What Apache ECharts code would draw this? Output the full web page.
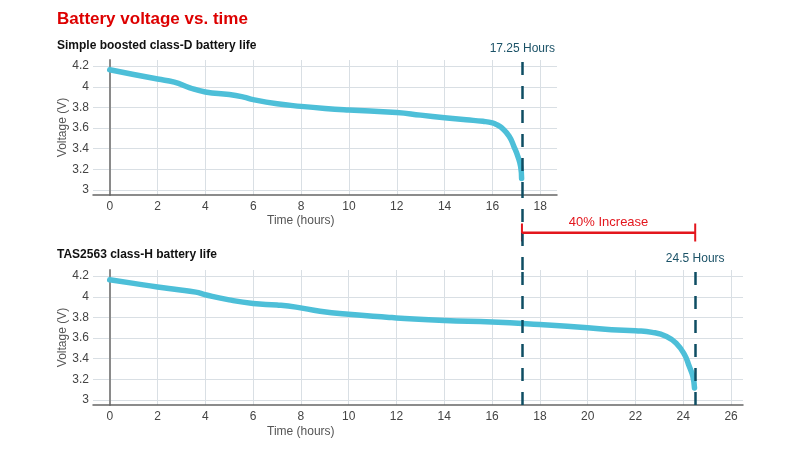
<!DOCTYPE html>
<html><head><meta charset="utf-8">
<script src="https://cdn.jsdelivr.net/npm/echarts@6/dist/echarts.min.js"></script>
<style>html,body{margin:0;padding:0;background:#fff}#c{width:800px;height:450px}</style>
</head><body><div id="c"></div>
<script>
// ---- data ----
const hoursD = [0, 1, 2, 2.7, 3.35, 4, 5, 5.6, 6, 7, 8, 9, 10, 12, 13, 14, 14.9, 15.6, 16, 16.2, 16.4, 16.7, 16.9, 17.07, 17.18, 17.22];
const voltsD = [4.165, 4.12, 4.075, 4.045, 3.99, 3.95, 3.925, 3.90, 3.875, 3.835, 3.81, 3.79, 3.775, 3.75, 3.725, 3.70, 3.68, 3.665, 3.65, 3.63, 3.60, 3.52, 3.42, 3.32, 3.225, 3.11];
const hoursH = [0, 1, 2, 2.8, 3.6, 4, 5, 6, 7, 7.8, 8.8, 10, 11.7, 12, 14, 16, 18, 20, 21, 22, 22.7, 23.3, 23.7, 24.05, 24.25, 24.4, 24.47];
const voltsH = [4.165, 4.13, 4.095, 4.07, 4.045, 4.02, 3.97, 3.935, 3.92, 3.90, 3.86, 3.83, 3.80, 3.795, 3.77, 3.755, 3.73, 3.70, 3.68, 3.67, 3.655, 3.615, 3.55, 3.44, 3.325, 3.23, 3.115];
const endD = 17.25;
const endH = 24.5;
const mainTitle = 'Battery voltage vs. time';
const subTitleD = 'Simple boosted class-D battery life';
const subTitleH = 'TAS2563 class-H battery life';
const xName = 'Time (hours)';
const yName = 'Voltage (V)';
const increaseLabel = '40% Increase';

// ---- styles ----
const FONT = '"Liberation Sans", Arial, Helvetica, sans-serif';
const LINE = '#4dbfd8';
const DASH = '#0e4d63';
const RED = '#e3161d';
const GRIDC = '#d9dfe4';

function xAx(gi, max, split) {
  return {
    type: 'value', gridIndex: gi, min: -0.7, max: max, splitNumber: split,
    axisLine: {show: true, onZero: false, lineStyle: {color: '#666', width: 1.5}},
    axisTick: {show: false},
    axisLabel: {color: '#444', fontSize: 12, fontFamily: FONT, margin: 6, showMinLabel: false, showMaxLabel: false},
    splitLine: {show: true, showMinLine: false, showMaxLine: false, lineStyle: {color: GRIDC, width: 1}}
  };
}
function yAx(gi) {
  return {
    type: 'value', gridIndex: gi, min: 2.95, max: 4.26, splitNumber: 6,
    name: yName, nameLocation: 'middle', nameGap: 24, nameMoveOverlap: false,
    nameTextStyle: {color: '#555', fontSize: 12, fontFamily: FONT},
    axisLine: {show: true, lineStyle: {color: '#8a8a8a', width: 2}},
    axisTick: {show: false},
    axisLabel: {color: '#444', fontSize: 12, fontFamily: FONT, margin: 4, showMinLabel: false, showMaxLabel: false},
    splitLine: {show: true, showMinLine: false, showMaxLine: false, lineStyle: {color: GRIDC, width: 1}}
  };
}
const dashStyle = {color: DASH, width: 2.5, type: [13, 11]};
const hoursLabel = {show: true, position: 'end', color: '#1b5267', fontSize: 12, fontFamily: FONT, distance: 5};

const option = {
  animation: false,
  backgroundColor: '#fff',
  title: [
    {text: mainTitle, left: 57, top: 11, padding: 0, textStyle: {color: '#dd0000', fontSize: 17, fontWeight: 'bold', fontFamily: FONT}},
    {text: subTitleD, left: 57, top: 40, padding: 0, textStyle: {color: '#111', fontSize: 12, fontWeight: 'bold', fontFamily: FONT}},
    {text: subTitleH, left: 57, top: 249, padding: 0, textStyle: {color: '#111', fontSize: 12, fontWeight: 'bold', fontFamily: FONT}}
  ],
  grid: [
    {left: 93, top: 60, width: 464, height: 135},
    {left: 93, top: 270, width: 650, height: 135},
    {left: 93, top: 195, width: 650, height: 75}
  ],
  xAxis: [xAx(0, 18.7, 10), xAx(1, 26.5, 13),
    {type: 'value', gridIndex: 2, min: -0.7, max: 26.5, show: false}],
  yAxis: [yAx(0), yAx(1),
    {type: 'value', gridIndex: 2, min: 0, max: 1, show: false}],
  graphic: [
    {type: 'text', left: 301 - 34, top: 215, style: {text: xName, fill: '#555', font: '12px ' + FONT}},
    {type: 'text', left: 301 - 34, top: 426, style: {text: xName, fill: '#555', font: '12px ' + FONT}}
  ],
  series: [
    {
      type: 'line', xAxisIndex: 0, yAxisIndex: 0,
      data: hoursD.map((h, i) => [h, voltsD[i]]),
      smooth: true, showSymbol: false, symbol: 'none',
      lineStyle: {color: LINE, width: 5.5, cap: 'round', join: 'round'},
      markLine: {silent: true, symbol: ['none', 'none'], lineStyle: dashStyle,
        label: Object.assign({}, hoursLabel, {formatter: endD + ' Hours'}),
        data: [{xAxis: endD}]}
    },
    {
      type: 'line', xAxisIndex: 1, yAxisIndex: 1,
      data: hoursH.map((h, i) => [h, voltsH[i]]),
      smooth: true, showSymbol: false, symbol: 'none',
      lineStyle: {color: LINE, width: 5.5, cap: 'round', join: 'round'},
      markLine: {silent: true, symbol: ['none', 'none'], lineStyle: dashStyle,
        data: [
          {xAxis: endD, label: {show: false}},
          {xAxis: endH, label: Object.assign({}, hoursLabel, {formatter: endH + ' Hours'})}
        ]}
    },
    {
      type: 'line', xAxisIndex: 2, yAxisIndex: 2,
      data: [[endD, 0.5], [endH, 0.5]],
      showSymbol: true, symbol: 'rect', symbolSize: [2, 18],
      itemStyle: {color: RED}, lineStyle: {color: RED, width: 2},
      markLine: {silent: true, symbol: ['none', 'none'],
        data: [
          {xAxis: endD, lineStyle: dashStyle, label: {show: false}},
          [{coord: [endD, 0.5], lineStyle: {color: RED, width: 2, type: 'solid'},
            label: {show: true, position: 'middle', formatter: increaseLabel, color: RED, fontSize: 13, fontFamily: FONT, distance: 4}},
           {coord: [endH, 0.5]}]
        ]}
    }
  ]
};
const chart = echarts.init(document.getElementById('c'), null, {renderer: 'canvas'});
chart.setOption(option);
</script>
</body></html>
